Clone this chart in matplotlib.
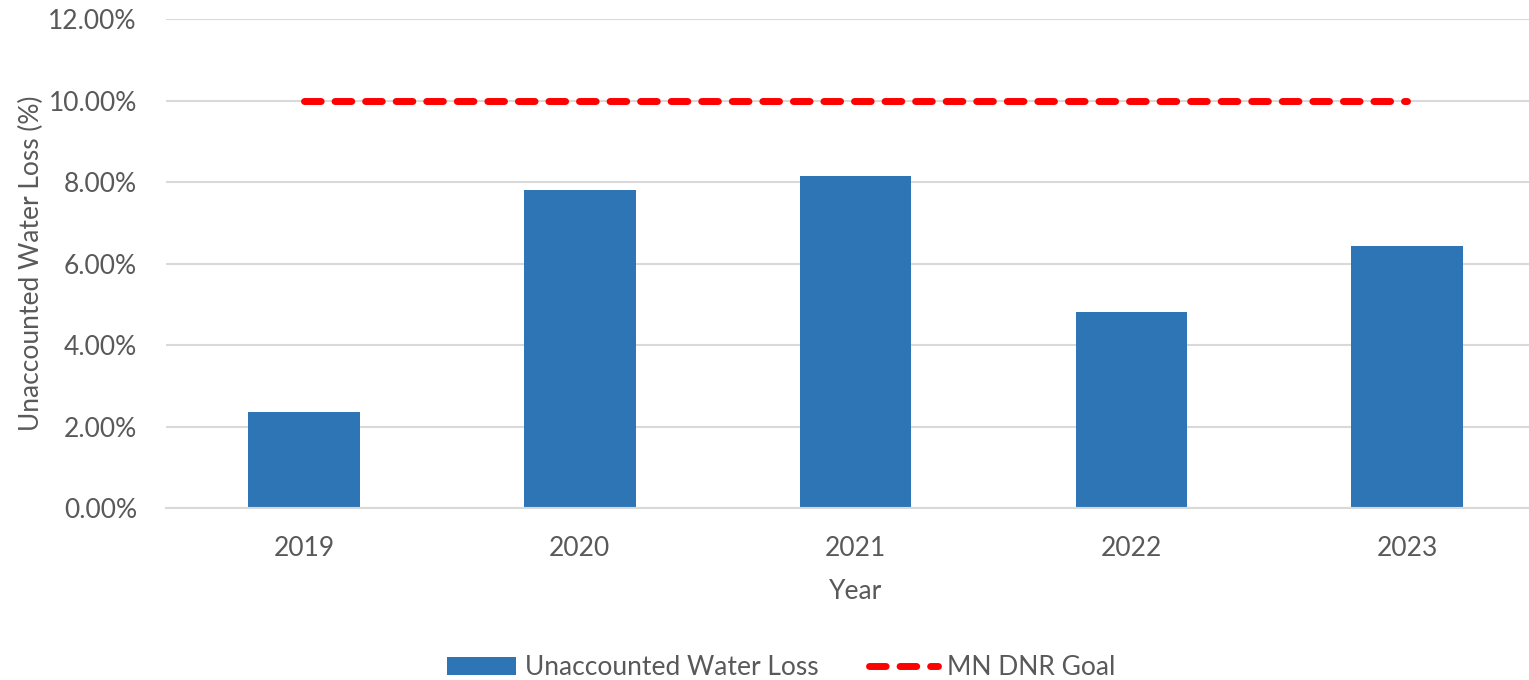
import matplotlib
matplotlib.use("Agg")
import matplotlib.pyplot as plt
from matplotlib.ticker import FuncFormatter

years     = ["2019", "2020", "2021", "2022", "2023"]
loss_pct  = [2.36, 7.81, 8.16, 4.82, 6.43]
goal_pct  = [10.0, 10.0, 10.0, 10.0, 10.0]
y_ticks   = [0, 2, 4, 6, 8, 10, 12]

TEXT_COLOR = "#595959"
BAR_COLOR  = "#2E75B6"
GRID_COLOR = "#D9D9D9"
FS = 19

plt.rcParams["font.family"] = ["Lato", "DejaVu Sans"]

fig = plt.figure(figsize=(15.29, 6.8), dpi=100)
ax  = fig.add_axes([0.1086, 0.2529, 0.9019, 0.719])

x = range(len(years))
bars = ax.bar(x, loss_pct, width=0.405, color=BAR_COLOR, zorder=2,
              label="Unaccounted Water Loss")
goal, = ax.plot(x, goal_pct, color="#FF0000", linewidth=5, linestyle=(0, (2.4, 2.0)),
                dash_capstyle="round", zorder=3, label="MN DNR Goal")

ax.set_xlim(-0.5, 4.5)
ax.set_ylim(0, 12)
ax.set_yticks(y_ticks)
ax.yaxis.set_major_formatter(FuncFormatter(lambda v, _: f"{v:.2f}%"))
ax.set_xticks(list(x))
ax.set_xticklabels(years)

ax.grid(axis="y", color=GRID_COLOR, linewidth=1.5, zorder=0)
ax.set_axisbelow(True)
for side in ["top", "right", "left"]:
    ax.spines[side].set_visible(False)
ax.spines["bottom"].set_color(GRID_COLOR)
ax.spines["bottom"].set_linewidth(1.5)

ax.tick_params(axis="both", length=0, labelsize=FS, colors=TEXT_COLOR)
ax.tick_params(axis="x", pad=20)
ax.tick_params(axis="y", pad=21)

ax.set_xlabel("Year", fontsize=FS, color=TEXT_COLOR, labelpad=13)
ax.set_ylabel("Unaccounted Water Loss (%)", fontsize=FS, color=TEXT_COLOR, labelpad=3)

leg = fig.legend([bars, goal], ["Unaccounted Water Loss", "MN DNR Goal"],
                 loc="center", bbox_to_anchor=(0.511, 0.018), bbox_transform=fig.transFigure,
                 ncol=2, frameon=False, fontsize=FS, handlelength=2.6,
                 handletextpad=0.35, columnspacing=1.9)
for t in leg.get_texts():
    t.set_color(TEXT_COLOR)

fig.savefig("out.png", dpi=100)
